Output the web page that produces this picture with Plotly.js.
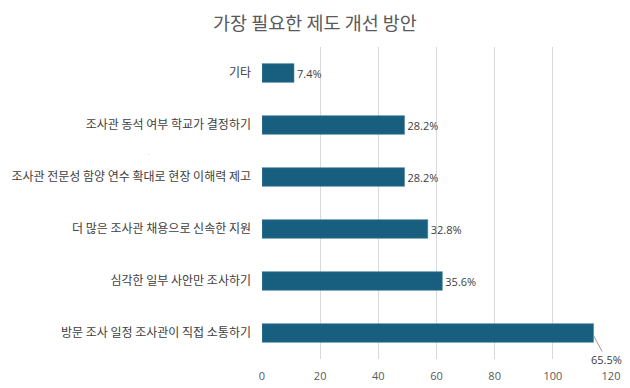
<!DOCTYPE html>
<html>
<head>
<meta charset="utf-8">
<script src="https://cdn.plot.ly/plotly-3.0.1.min.js"></script>
<style>
html,body{margin:0;padding:0;background:#fff;}
#chart{width:630px;height:388px;}
</style>
</head>
<body>
<div id="chart"></div>
<script>
// categories listed from top to bottom
var categories = [
  "기타",
  "조사관 동석 여부 학교가 결정하기",
  "조사관 전문성 함양 연수 확대로 현장 이해력 제고",
  "더 많은 조사관 채용으로 신속한 지원",
  "심각한 일부 사안만 조사하기",
  "방문 조사 일정 조사관이 직접 소통하기"
];
var counts = [11, 49, 49, 57, 62, 114];
var pctLabels = ["7.4%", "28.2%", "28.2%", "32.8%", "35.6%", "65.5%"];
var xTicks = [0, 20, 40, 60, 80, 100, 120];

var last = categories.length - 1;
var barText = pctLabels.map(function(t, i){ return i === last ? "" : t; });

var trace = {
  type: "bar",
  orientation: "h",
  y: categories,
  x: counts,
  text: barText,
  textposition: "outside",
  textfont: {family: "Open Sans, sans-serif", size: 11, color: "#404040"},
  cliponaxis: false,
  width: 0.36,
  marker: {color: "#175e7f", line: {color: "#4f86a2", width: 0.6}},
  hoverinfo: "none"
};

var layout = {
  width: 630,
  height: 388,
  margin: {l: 262, r: 19, t: 47, b: 29},
  paper_bgcolor: "#ffffff",
  plot_bgcolor: "#ffffff",
  showlegend: false,
  font: {family: "Noto Sans CJK KR, sans-serif", size: 12, color: "#595959"},
  title: {
    text: "가장 필요한 제도 개선 방안",
    font: {family: "Noto Sans CJK KR, sans-serif", size: 18.5, color: "#595959"},
    x: 0.5, xanchor: "center", xref: "container",
    y: 0.94, yanchor: "middle", yref: "container"
  },
  xaxis: {
    range: [0, 120],
    tickvals: xTicks,
    ticktext: xTicks.map(String),
    showgrid: true,
    gridcolor: "#d9d9d9",
    gridwidth: 1,
    zeroline: false,
    showline: false,
    ticks: "",
    ticklabelstandoff: 9,
    tickfont: {family: "Open Sans, sans-serif", size: 11, color: "#595959"},
    fixedrange: true
  },
  yaxis: {
    type: "category",
    autorange: "reversed",
    showgrid: false,
    zeroline: false,
    showline: false,
    ticks: "",
    ticklabelstandoff: 10,
    tickfont: {family: "Noto Sans CJK KR, sans-serif", size: 12, color: "#404040"},
    fixedrange: true
  },
  annotations: [
    {
      x: counts[last], y: last + 0.05, xref: "x", yref: "y",
      text: pctLabels[last],
      showarrow: true, arrowhead: 0, arrowwidth: 1, arrowcolor: "#999999",
      standoff: 0, ax: 13, ay: 24, borderpad: 0,
      font: {family: "Open Sans, sans-serif", size: 11, color: "#404040"}
    },
    {
      x: -0.333, y: 0.663, xref: "paper", yref: "paper",
      text: ".", showarrow: false,
      font: {size: 6, color: "#b0b0b0"}
    }
  ]
};

Plotly.newPlot("chart", [trace], layout, {displayModeBar: false, staticPlot: true});
</script>
</body>
</html>
